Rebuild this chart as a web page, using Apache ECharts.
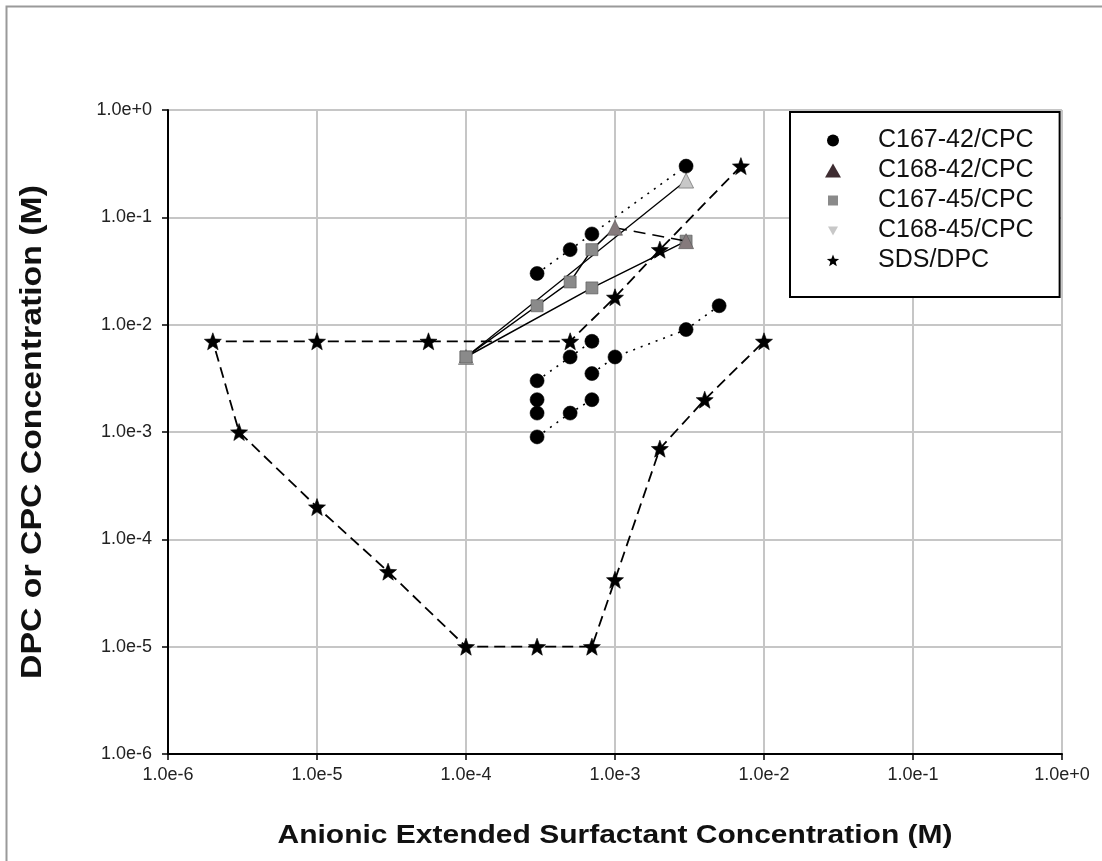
<!DOCTYPE html>
<html>
<head>
<meta charset="utf-8">
<script src="https://cdn.jsdelivr.net/npm/echarts@6/dist/echarts.min.js"></script>
<style>
html,body{margin:0;padding:0;background:#fff;}
#chart{width:1102px;height:861px;}
</style>
</head>
<body>
<div id="chart"></div>
<script>
// ---- data ----
const seriesNames = ['C167-42/CPC','C168-42/CPC','C167-45/CPC','C168-45/CPC','SDS/DPC'];
const xTitle = 'Anionic Extended Surfactant Concentration (M)';
const yTitle = 'DPC or CPC Concentration (M)';
const xTickLabels = ['1.0e-6','1.0e-5','1.0e-4','1.0e-3','1.0e-2','1.0e-1','1.0e+0'];
const yTickLabels = ['1.0e-6','1.0e-5','1.0e-4','1.0e-3','1.0e-2','1.0e-1','1.0e+0'];

const c16742Upper = [[3e-4,3e-2],[5e-4,5e-2],[7e-4,7e-2],[3e-3,3e-1]];
const c16742LowA  = [[3e-4,3e-3],[5e-4,5e-3],[7e-4,7e-3]];
const c16742LowB  = [[3e-4,9e-4],[5e-4,1.5e-3],[7e-4,2e-3]];
const c16742LowC  = [[7e-4,3.5e-3],[1e-3,5e-3],[3e-3,9e-3],[5e-3,1.5e-2]];
const c16742Single = [[3e-4,2e-3],[3e-4,1.5e-3]];

const c16842 = [[1e-3,8e-2],[3e-3,6e-2]];

const c16745A = [[1e-4,5e-3],[3e-4,1.5e-2],[5e-4,2.5e-2],[7e-4,5e-2],[1e-3,8e-2]];
const c16745B = [[1e-4,5e-3],[7e-4,2.2e-2],[3e-3,6e-2]];

const c16845 = [[1e-4,5e-3],[3e-3,2.2e-1]];

const sdsDpc = [[7e-3,3e-1],[2e-3,5e-2],[1e-3,1.8e-2],[5e-4,7e-3],[5.6e-5,7e-3],[1e-5,7e-3],[2e-6,7e-3],
  [3e-6,1e-3],[1e-5,2e-4],[3e-5,5e-5],[1e-4,1e-5],[3e-4,1e-5],[7e-4,1e-5],[1e-3,4.2e-5],
  [2e-3,7e-4],[4e-3,2e-3],[1e-2,7e-3]];

// ---- helpers (style only) ----
function starPts(cx, cy, R, r) {
  let s = '';
  for (let i = 0; i < 10; i++) {
    const a = -Math.PI / 2 + i * Math.PI / 5;
    const rad = i % 2 === 0 ? R : r;
    s += (i === 0 ? 'M' : 'L') + (cx + rad * Math.cos(a)).toFixed(2) + ',' + (cy + rad * Math.sin(a)).toFixed(2);
  }
  return s + 'Z';
}
const STAR = 'path://' + starPts(50, 52, 50, 21);
const LEG_BOX = 'M0,0M50,14';
const legIcons = {
  'C167-42/CPC': 'path://' + LEG_BOX + 'M4,7A6,6 0 1,0 16,7A6,6 0 1,0 4,7Z',
  'C168-42/CPC': 'path://' + LEG_BOX + 'M2,14L10,0L18,14Z',
  'C167-45/CPC': 'path://' + LEG_BOX + 'M5,2L15,2L15,12L5,12Z',
  'C168-45/CPC': 'path://' + LEG_BOX + 'M5,3L15,3L10,12Z',
  'SDS/DPC': 'path://' + LEG_BOX + starPts(10, 7.5, 6.5, 2.8)
};
const legColors = {
  'C167-42/CPC': '#000000',
  'C168-42/CPC': '#3e2c31',
  'C167-45/CPC': '#8a8a8a',
  'C168-45/CPC': '#c8c8c8',
  'SDS/DPC': '#000000'
};
function fmt(v) {
  const e = Math.round(Math.log10(v));
  return '1.0e' + (e >= 0 ? '+' + e : '' + e);
}

const FONT = 'Liberation Sans, Arial, sans-serif';

function mk(name, data, symbol, size, color, lineType, lineWidth, z) {
  return {
    name: name, type: 'line', data: data, symbol: symbol, symbolSize: size,
    itemStyle: { color: color, borderColor: color === '#000000' ? '#000' : '#555', borderWidth: 0.6 },
    lineStyle: { color: '#000', width: lineWidth, type: lineType },
    z: z, animation: false, silent: true
  };
}

const lastNone = (n) => function (v, p) { return p.dataIndex === n - 1 ? 'none' : 'rect'; };

const series = [
  mk('C168-45/CPC', c16845, 'triangle', 15, '#c8c8c8', 'solid', 1.3, 2),
  mk('C167-45/CPC', c16745A, lastNone(c16745A.length), 12, '#8a8a8a', 'solid', 1.5, 3),
  mk('C167-45/CPC', c16745B, 'rect', 12, '#8a8a8a', 'solid', 1.5, 3),
  mk('C168-42/CPC', c16842, 'triangle', 15, '#857a7c', [12, 7], 1.5, 4),
  mk('C167-42/CPC', c16742Upper, 'circle', 14, '#000000', [2, 6], 1.6, 5),
  mk('C167-42/CPC', c16742LowA, 'circle', 14, '#000000', [2, 6], 1.6, 5),
  mk('C167-42/CPC', c16742LowB, 'circle', 14, '#000000', [2, 6], 1.6, 5),
  mk('C167-42/CPC', c16742LowC, 'circle', 14, '#000000', [2, 6], 1.6, 5),
  Object.assign(mk('C167-42/CPC', c16742Single, 'circle', 14, '#000000', 'solid', 0, 5), {lineStyle: {width: 0}}),
  mk('SDS/DPC', sdsDpc, STAR, 17, '#000000', [11, 6], 1.8, 6)
];

const axisCommon = {
  type: 'log', logBase: 10, min: 1e-6, max: 1, interval: 1,
  axisLine: { show: true, onZero: false, lineStyle: { color: '#000', width: 2 } },
  axisTick: { show: true, length: 6, lineStyle: { color: '#000', width: 1.5 } },
  axisLabel: { formatter: fmt, color: '#222', fontSize: 18, fontFamily: FONT },
  splitLine: { show: true, lineStyle: { color: '#c6c6c6', width: 2 } },
  minorTick: { show: false }, minorSplitLine: { show: false }
};

const chart = echarts.init(document.getElementById('chart'), null, { renderer: 'canvas' });
chart.setOption({
  backgroundColor: '#fff',
  animation: false,
  grid: { left: 168, right: 40, top: 110, bottom: 107, containLabel: false },
  xAxis: Object.assign({}, axisCommon, {
    axisLabel: Object.assign({}, axisCommon.axisLabel, { margin: 12 })
  }),
  yAxis: Object.assign({}, axisCommon, {
    axisLabel: Object.assign({}, axisCommon.axisLabel, { margin: 16 })
  }),
  legend: {
    orient: 'vertical', left: 790, top: 112,
    padding: [16, 26, 24, 33],
    itemWidth: 50, itemHeight: 14, itemGap: 5,
    backgroundColor: '#fff', borderColor: '#000', borderWidth: 2, borderRadius: 0,
    textStyle: { color: '#111', fontSize: 25, fontFamily: FONT },
    selectedMode: false,
    data: seriesNames.map(n => ({ name: n, icon: legIcons[n], itemStyle: { color: legColors[n], borderWidth: 0 } }))
  },
  graphic: [
    { type: 'rect', left: 4, top: 4, shape: { width: 1300, height: 1000 }, style: { fill: 'none', stroke: '#9a9a9a', lineWidth: 2 }, silent: true, z: -1 },
    { type: 'text', x: 615, y: 836, scaleX: 1.2, scaleY: 1, silent: true, z: 10,
      style: { text: xTitle, fill: '#111', font: 'bold 25px ' + FONT, textAlign: 'center', textVerticalAlign: 'middle' } },
    { type: 'text', x: 33, y: 432, rotation: Math.PI / 2, scaleX: 1.3, scaleY: 1.12, silent: true, z: 10,
      style: { text: yTitle, fill: '#111', font: 'bold 26px ' + FONT, textAlign: 'center', textVerticalAlign: 'middle' } }
  ],
  series: series
});
</script>
</body>
</html>
